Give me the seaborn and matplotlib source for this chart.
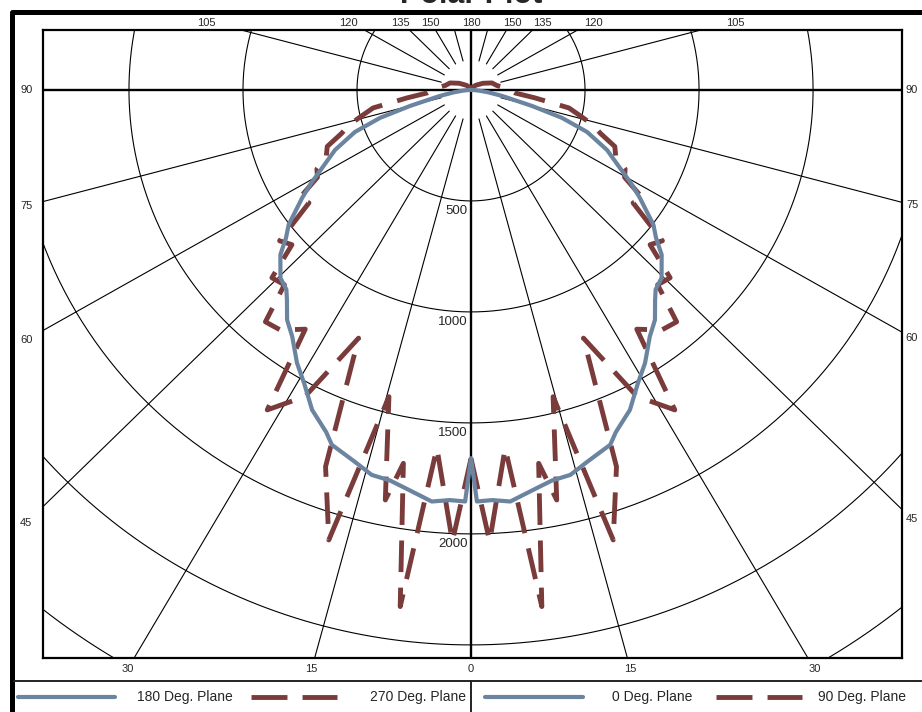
import numpy as np
import pandas as pd
import matplotlib
matplotlib.use("Agg")
import matplotlib.pyplot as plt
import seaborn as sns
from matplotlib.lines import Line2D

# vertical angle (deg from nadir) and candela
blue_angles = [0, 0.8, 2.9, 5.3, 9.1, 11.4, 14.1, 17, 20.9, 22.4, 25.8, 29, 31.8, 35.2,
               37.9, 40.5, 42, 44.6, 48.4, 50.6, 52.8, 56.7, 59, 61.7, 65.6, 69.6, 72.5,
               74.9, 78.8, 82, 85, 88, 90]
plane_0_cd = [1660, 1854, 1850, 1862, 1817, 1795, 1788, 1750, 1711, 1667, 1601, 1510, 1448, 1360,
              1313, 1243, 1210, 1190, 1118, 1050, 1004, 886, 820, 742, 655, 543, 418,
              277, 139, 75, 35, 8, 0]
plane_180_cd = [1660, 1854, 1850, 1862, 1817, 1795, 1788, 1750, 1711, 1667, 1601, 1510, 1448, 1360,
                1313, 1243, 1210, 1190, 1118, 1050, 1004, 886, 820, 742, 655, 543, 418,
                277, 139, 75, 35, 8, 0]

red_angles = [0, 2.3, 5.3, 7.6, 10, 11.5, 14.6, 17.1, 20.6, 23.8, 27.8, 31.8, 34, 37.7,
              40.8, 43, 45.9, 48.4, 51, 54.4, 57, 59.7, 62.2, 65, 68, 71, 73.4, 76,
              79.3, 82.7, 86, 90, 95, 100, 109, 120, 135, 150, 180]
plane_90_cd = [1660, 2036, 1620, 2348, 1708, 1885, 1428, 2121, 1813, 1222, 1561, 1696, 1300, 1367,
               1380, 1200, 1216, 1050, 1080, 874, 900, 780, 764, 700, 680, 600, 560, 500,
               437, 283, 193, 170, 140, 115, 97, 60, 30, 15, 0]
plane_270_cd = [1660, 2036, 1620, 2348, 1708, 1885, 1428, 2121, 1813, 1222, 1561, 1696, 1300, 1367,
                1380, 1200, 1216, 1050, 1080, 874, 900, 780, 764, 700, 680, 600, 560, 500,
                437, 283, 193, 170, 140, 115, 97, 60, 30, 15, 0]

ring_values = [500, 1000, 1500, 2000]
spoke_angles = [15, 30, 45, 60, 75, 105, 120, 135, 150, 165]
top_labels = [105, 120, 135, 150]
side_labels = [45, 60, 75, 90]
bottom_labels = [0, 15, 30]

BLUE = "#6b84a0"
RED = "#7a3b3b"
W, H = 922, 712


def fx(px):
    return px / W


def fy(py):
    return 1 - py / H


def to_xy(angles, cd, side):
    a = np.radians(angles)
    r = np.asarray(cd, dtype=float)
    return pd.DataFrame({"x": side * r * np.sin(a), "y": -r * np.cos(a)})


sns.set_style("white")
plt.rcParams["font.family"] = ["Liberation Sans", "DejaVu Sans"]

fig = plt.figure(figsize=(W / 100, H / 100), dpi=100)
ax = fig.add_axes([fx(43), fy(658), fx(902) - fx(43), fy(30) - fy(658)])
ax.set_xlim(-1877, 1890)
ax.set_ylim(-2559, 270)
ax.set_xticks([])
ax.set_yticks([])
for s in ax.spines.values():
    s.set_linewidth(1.6)
    s.set_color("black")

# grid rings and spokes
t = np.linspace(0, 2 * np.pi, 721)
for r in range(500, 5001, 500):
    ax.plot(r * np.cos(t), r * np.sin(t), color="black", lw=0.8, zorder=1)
for a in spoke_angles:
    ar = np.radians(a)
    for side in (-1, 1):
        ax.plot([side * 135 * np.sin(ar), side * 6000 * np.sin(ar)],
                [-135 * np.cos(ar), -6000 * np.cos(ar)], color="black", lw=0.8, zorder=1)
ax.axvline(0, color="black", lw=1.7, zorder=1)
ax.axhline(0, color="black", lw=1.7, zorder=1)

# candela ring labels
for r in ring_values:
    ax.text(-14, -r - 18, str(r), ha="right", va="top", fontsize=9.5, zorder=2)

# angle labels
for a in top_labels:
    ar = np.radians(a)
    tt = 311 / -np.cos(ar)
    for side in (-1, 1):
        ax.text(side * tt * np.sin(ar), 300, str(a), ha="center", va="center",
                fontsize=8, clip_on=False)
ax.text(0, 300, "180", ha="center", va="center", fontsize=8, clip_on=False)
for a in side_labels:
    ar = np.radians(a)
    for xx in (-1950, 1934):
        yy = -abs(xx) / np.tan(ar) if a != 90 else 0
        ax.text(xx, yy, str(a), ha="center", va="center", fontsize=8, clip_on=False)
for a in bottom_labels:
    ar = np.radians(a)
    for side in ((-1, 1) if a else (1,)):
        ax.text(side * 2608 * np.tan(ar), -2608, str(a), ha="center", va="center",
                fontsize=8, clip_on=False)

# photometric curves
dash = (0, (6.5, 3.2))
sns.lineplot(data=to_xy(red_angles, plane_270_cd, -1), x="x", y="y", sort=False,
             estimator=None, color=RED, lw=3.5, linestyle=dash, ax=ax, zorder=3)
sns.lineplot(data=to_xy(red_angles, plane_90_cd, 1), x="x", y="y", sort=False,
             estimator=None, color=RED, lw=3.5, linestyle=dash, ax=ax, zorder=3)
sns.lineplot(data=to_xy(blue_angles, plane_180_cd, -1), x="x", y="y", sort=False,
             estimator=None, color=BLUE, lw=3.0, ax=ax, zorder=4)
sns.lineplot(data=to_xy(blue_angles, plane_0_cd, 1), x="x", y="y", sort=False,
             estimator=None, color=BLUE, lw=3.0, ax=ax, zorder=4)
ax.set_xlabel("")
ax.set_ylabel("")

# title sits partly above the top edge, as in the source image
fig.text(fx(471), fy(3), "Polar Plot", ha="center", va="baseline",
         fontsize=22, fontweight="bold")

# outer frame and legend band
fig.add_artist(Line2D([fx(11.5), fx(11.5), fx(940)], [fy(730), fy(12), fy(12)],
                      color="black", lw=3.6, transform=fig.transFigure))
fig.add_artist(Line2D([fx(14), fx(940)], [fy(681), fy(681)],
                      color="#222222", lw=1.4, transform=fig.transFigure))
fig.add_artist(Line2D([fx(471), fx(471)], [fy(681), fy(730)],
                      color="#222222", lw=1.4, transform=fig.transFigure))

legend_items = [
    (18, 115, BLUE, "-", 3.0, 137, "180 Deg. Plane"),
    (251, 337, RED, (0, (7.4, 3.1)), 3.5, 370, "270 Deg. Plane"),
    (485, 583, BLUE, "-", 3.0, 612, "0 Deg. Plane"),
    (716, 802, RED, (0, (7.4, 3.1)), 3.5, 818, "90 Deg. Plane"),
]
for x0, x1, col, ls, lw, tx, label in legend_items:
    fig.add_artist(Line2D([fx(x0), fx(x1)], [fy(697), fy(697)], color=col, lw=lw,
                          linestyle=ls, transform=fig.transFigure))
    fig.text(fx(tx), fy(697), label, ha="left", va="center", fontsize=10)

fig.savefig("out.png", dpi=100)
